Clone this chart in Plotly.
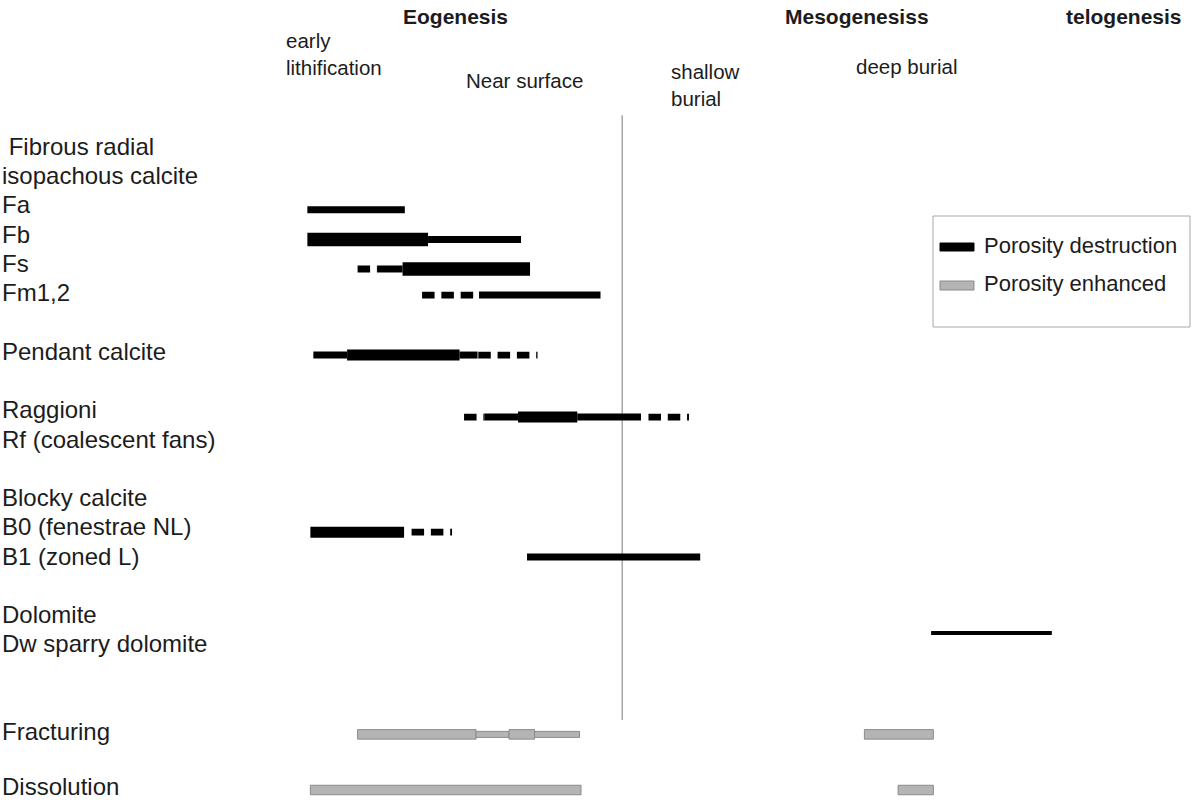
import plotly.graph_objects as go

# ---------------------------------------------------------------------------
# Text of the chart
# ---------------------------------------------------------------------------
# One entry per text line of the left-hand column; "" is an empty line.
LINES = [
    "\u00a0Fibrous radial", "isopachous calcite", "Fa", "Fb", "Fs", "Fm1,2", "",
    "Pendant calcite", "",
    "Raggioni", "Rf (coalescent fans)", "",
    "Blocky calcite", "B0 (fenestrae NL)", "B1 (zoned L)", "",
    "Dolomite", "Dw sparry dolomite", "", "",
    "Fracturing", "",
    "Dissolution",
]

STAGES = ["Eogenesis", "Mesogenesiss", "telogenesis"]
SETTINGS = ["early<br>lithification", "Near surface", "shallow<br>burial", "deep burial"]
LEGEND_ITEMS = ["Porosity destruction", "Porosity enhanced"]

# ---------------------------------------------------------------------------
# Paragenetic timing (relative diagenetic time, arbitrary units)
# ---------------------------------------------------------------------------
SEG_PHASE = [
    "Fa",
    "Fb", "Fb",
    "Fs", "Fs", "Fs",
    "Fm1,2", "Fm1,2",
    "Pendant", "Pendant", "Pendant", "Pendant",
    "Rf", "Rf", "Rf", "Rf", "Rf",
    "B0", "B0",
    "B1",
    "Dw",
    "Fracturing", "Fracturing", "Fracturing", "Fracturing", "Fracturing",
    "Dissolution", "Dissolution",
]
SEG_START = [
    0.0,
    0.0, 16.1,
    6.7, 9.3, 12.7,
    15.3, 22.9,
    0.8, 5.3, 20.3, 22.8,
    20.9, 23.6, 28.1, 36.0, 45.5,
    0.4, 13.9,
    29.3,
    83.2,
    6.7, 22.5, 26.9, 30.3, 74.3,
    0.4, 78.8,
]
SEG_END = [
    13.0,
    16.1, 28.5,
    9.3, 12.7, 29.7,
    22.9, 39.1,
    5.3, 20.3, 22.7, 30.7,
    23.6, 28.1, 36.0, 44.5, 50.9,
    12.9, 19.3,
    52.4,
    99.3,
    22.5, 26.9, 30.3, 36.3, 83.5,
    36.5, 83.5,
]
# intensity of the porosity change: 0 trace, 1 minor, 2 significant, 3 major
SEG_LEVEL = [
    1,
    3, 1,
    1, 1, 3,
    1, 1,
    1, 2, 1, 1,
    1, 1, 2, 1, 1,
    2, 1,
    1,
    0,
    2, 1, 2, 1, 2,
    2, 2,
]
# False = uncertain timing (dashed)
SEG_CERTAIN = [
    True,
    True, True,
    False, True, True,
    False, True,
    True, True, True, False,
    False, True, True, True, False,
    True, False,
    True,
    True,
    True, True, True, True, True,
    True, True,
]
SEG_EFFECT = ["destruction"] * 21 + ["enhancement"] * 7

EOGENESIS_END = 42.0   # start of shallow burial

# ---------------------------------------------------------------------------
# Layout and styling
# ---------------------------------------------------------------------------
W, H = 1192, 802
X_RANGE = [-41.0, 118.0]
Y_RANGE = [22.4, -5.0]          # text-line units, top line = 0
PX_PER_LINE = H / (Y_RANGE[0] - Y_RANGE[1])

FONT = "Liberation Sans, Arial, Helvetica, sans-serif"
INK = "#1c1c1c"
GREY_FILL = "#b4b4b4"
GREY_EDGE = "#8a8a8a"

# vertical position (in text lines) of each phase's bar
BAR_LINE = {
    "Fa": 2.17, "Fb": 3.18, "Fs": 4.19, "Fm1,2": 5.08,
    "Pendant": 7.13, "Rf": 9.25, "B0": 13.18, "B1": 14.03,
    "Dw": 16.63, "Fracturing": 20.09, "Dissolution": 21.99,
}
BLACK_PX = {0: 4, 1: 7, 2: 11, 3: 13.5}
GREY_PX = {1: 6, 2: 9.5}
DASH_PX = 6.8
DASH_PATTERN = "12.5px,6.8px"


def px_x(x):
    return x / W


def px_y(y):
    return 1 - y / H


fig = go.Figure()

# solid bars (black = destruction, grey = enhancement)
for effect, color, edge, sizes in [
    ("destruction", "black", "black", BLACK_PX),
    ("enhancement", GREY_FILL, GREY_EDGE, GREY_PX),
]:
    idx = [i for i in range(len(SEG_PHASE))
           if SEG_EFFECT[i] == effect and SEG_CERTAIN[i]]
    fig.add_trace(go.Bar(
        orientation="h",
        y=[BAR_LINE[SEG_PHASE[i]] for i in idx],
        base=[SEG_START[i] for i in idx],
        x=[SEG_END[i] - SEG_START[i] for i in idx],
        width=[sizes[SEG_LEVEL[i]] / PX_PER_LINE for i in idx],
        marker=dict(color=color,
                    line=dict(color=edge, width=1 if effect == "enhancement" else 0)),
        showlegend=False,
        hoverinfo="skip",
    ))

# uncertain timing: dashed strokes
for i in range(len(SEG_PHASE)):
    if SEG_CERTAIN[i]:
        continue
    yv = BAR_LINE[SEG_PHASE[i]]
    fig.add_trace(go.Scatter(
        x=[SEG_START[i], SEG_END[i]], y=[yv, yv], mode="lines",
        line=dict(color="black", width=DASH_PX, dash=DASH_PATTERN),
        showlegend=False, hoverinfo="skip",
    ))

# eogenesis / burial boundary
fig.add_shape(type="line", xref="x", yref="y",
              x0=EOGENESIS_END, x1=EOGENESIS_END, y0=-1.06, y1=19.6,
              line=dict(color="#a6a6a6", width=1.5), layer="below")

annotations = []

# left column of phase names (last line nudged up to stay inside the page)
last = len(LINES) - 1
for n, txt in enumerate(LINES):
    if not txt:
        continue
    annotations.append(dict(
        xref="paper", yref="y", x=0, y=n, xanchor="left", yanchor="middle",
        yshift=4 if n == last else 0,
        text=txt, showarrow=False, font=dict(family=FONT, size=24, color=INK),
    ))

# diagenetic stages (bold) and settings
stage_pos = [(455, 17), (857, 17), (1124, 17)]
for txt, (cx, cy) in zip(STAGES, stage_pos):
    annotations.append(dict(
        xref="paper", yref="paper", x=px_x(cx), y=px_y(cy),
        xanchor="center", yanchor="middle", text=f"<b>{txt}</b>",
        showarrow=False, font=dict(family=FONT, size=21, color=INK),
    ))

setting_pos = [(284, 54), (464, 81), (669, 85), (854, 67)]
for txt, (lx, cy) in zip(SETTINGS, setting_pos):
    annotations.append(dict(
        xref="paper", yref="paper", x=px_x(lx), y=px_y(cy),
        xanchor="left", yanchor="middle", align="left", text=txt,
        showarrow=False, font=dict(family=FONT, size=20.5, color=INK),
    ))

# legend box
shapes = [dict(type="rect", xref="paper", yref="paper",
               x0=px_x(933), x1=px_x(1190), y0=px_y(216), y1=px_y(327),
               line=dict(color="#a8a8a8", width=1), fillcolor="white")]
swatches = [(247, "black", "black", 8), (285.5, GREY_FILL, GREY_EDGE, 9)]
for txt, (cy, fill, edge, h) in zip(LEGEND_ITEMS, swatches):
    shapes.append(dict(type="rect", xref="paper", yref="paper",
                       x0=px_x(940), x1=px_x(974),
                       y0=px_y(cy - h / 2), y1=px_y(cy + h / 2),
                       line=dict(color=edge, width=1), fillcolor=fill))
    annotations.append(dict(
        xref="paper", yref="paper", x=px_x(982), y=px_y(cy - 2),
        xanchor="left", yanchor="middle", text=txt, showarrow=False,
        font=dict(family=FONT, size=22, color=INK),
    ))

for s in shapes:
    fig.add_shape(**s)

fig.update_layout(
    width=W, height=H, autosize=False,
    margin=dict(l=0, r=0, t=0, b=0, pad=0),
    paper_bgcolor="white", plot_bgcolor="white",
    barmode="overlay",
    xaxis=dict(range=X_RANGE, visible=False, fixedrange=True),
    yaxis=dict(range=Y_RANGE, visible=False, fixedrange=True),
    annotations=annotations,
    showlegend=False,
)

fig.write_html("out.html", config={"displayModeBar": False})
